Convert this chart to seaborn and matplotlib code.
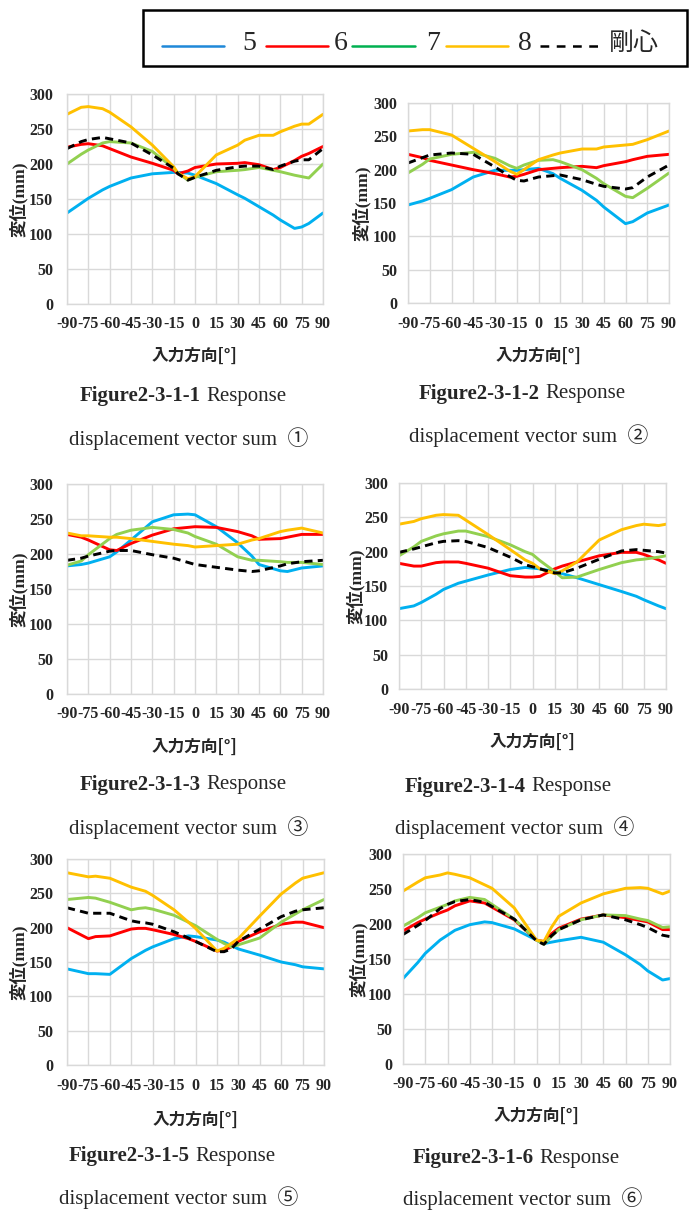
import matplotlib
matplotlib.use("Agg")
import matplotlib.pyplot as plt
import matplotlib.patches as mpatches
import pandas as pd
import seaborn as sns

sns.set_style("white")

# ---- data ----
SERIES = ["5", "6", "7", "8", "剛心"]
LINE_COLORS = ["#00B0F0", "#FF0000", "#92D050", "#FFC000", "#000000"]
LEGEND_COLORS = ["#1F88D8", "#FF0000", "#00B050", "#FFC000", "#000000"]
X_TICKS = [-90, -75, -60, -45, -30, -15, 0, 15, 30, 45, 60, 75, 90]
Y_TICKS = [0, 50, 100, 150, 200, 250, 300]

# Figure2-3-1-1
ANGLES_1 = [-90, -80, -75, -65, -60, -45, -30, -15, -12, -5, 0, 15, 30, 35, 45, 55, 60, 70, 75, 80, 90]
S5_1 = [130, 144, 151, 163, 168, 180, 186, 188, 188, 187, 184, 172, 156, 151, 139, 127, 120, 108, 110, 115, 130]
S6_1 = [224, 228, 229, 226, 222, 210, 201, 191, 186, 190, 195, 200, 201, 202, 199, 192, 195, 205, 211, 215, 225]
S7_1 = [200, 214, 220, 230, 232, 230, 218, 194, 187, 177, 181, 189, 191, 192, 195, 191, 189, 184, 182, 180, 200]
S8_1 = [271, 281, 282, 279, 274, 253, 227, 196, 187, 179, 182, 213, 227, 234, 241, 241, 246, 254, 257, 257, 271]
SC_1 = [222, 232, 235, 238, 236, 230, 213, 194, 186, 177, 181, 191, 196, 197, 197, 192, 197, 204, 206, 206, 222]

# Figure2-3-1-2
ANGLES_2 = [-90, -80, -75, -60, -45, -30, -20, -15, -10, 0, 10, 15, 30, 40, 45, 60, 65, 75, 90]
S5_2 = [147, 153, 157, 170, 189, 199, 199, 199, 200, 202, 194, 187, 169, 154, 144, 119, 122, 135, 147]
S6_2 = [223, 218, 214, 207, 200, 194, 189, 190, 193, 200, 202, 203, 205, 203, 206, 212, 215, 220, 223]
S7_2 = [195, 208, 216, 223, 226, 217, 206, 202, 207, 214, 215, 212, 200, 187, 179, 160, 158, 172, 195]
S8_2 = [258, 260, 260, 252, 232, 212, 198, 193, 200, 215, 222, 225, 231, 231, 234, 237, 238, 245, 258]
SC_2 = [210, 218, 222, 225, 223, 204, 190, 184, 183, 189, 191, 192, 185, 178, 175, 171, 173, 189, 207]

# Figure2-3-1-3
ANGLES_3 = [-90, -80, -75, -60, -55, -45, -30, -15, -5, 0, 15, 30, 40, 45, 60, 65, 75, 90]
S5_3 = [183, 185, 187, 196, 203, 220, 246, 256, 257, 256, 239, 216, 197, 185, 176, 175, 180, 183]
S6_3 = [228, 224, 220, 206, 205, 215, 227, 236, 238, 239, 238, 232, 226, 221, 222, 224, 228, 228]
S7_3 = [184, 190, 199, 222, 228, 234, 238, 235, 230, 225, 214, 196, 191, 191, 189, 188, 188, 185]
S8_3 = [230, 226, 226, 224, 224, 222, 218, 214, 212, 210, 212, 214, 220, 222, 232, 234, 237, 230]
SC_3 = [191, 194, 197, 204, 205, 205, 199, 194, 188, 185, 181, 177, 175, 176, 183, 186, 189, 191]

# Figure2-3-1-4
ANGLES_4 = [-90, -80, -75, -65, -60, -50, -45, -30, -15, -5, 0, 5, 15, 20, 30, 45, 60, 70, 75, 85, 90]
S5_4 = [117, 121, 126, 138, 145, 154, 157, 166, 174, 177, 176, 175, 171, 168, 162, 152, 142, 135, 130, 121, 117]
S6_4 = [183, 179, 179, 184, 185, 185, 183, 176, 165, 163, 163, 164, 175, 179, 185, 194, 199, 199, 196, 188, 183]
S7_4 = [194, 207, 215, 223, 226, 230, 230, 222, 210, 200, 196, 187, 171, 162, 163, 174, 184, 188, 189, 192, 194]
S8_4 = [240, 244, 248, 253, 254, 253, 246, 225, 203, 188, 183, 175, 168, 172, 185, 217, 232, 238, 240, 238, 240]
SC_4 = [199, 204, 207, 213, 215, 216, 215, 206, 192, 181, 178, 175, 169, 169, 176, 189, 201, 203, 202, 200, 198]

# Figure2-3-1-5
ANGLES_5 = [-90, -75, -70, -60, -45, -40, -35, -30, -15, -5, 0, 15, 20, 25, 30, 45, 60, 70, 75, 90]
S5_5 = [140, 133, 133, 132, 155, 161, 167, 172, 184, 188, 187, 182, 179, 174, 169, 160, 150, 146, 143, 140]
S6_5 = [200, 184, 187, 188, 198, 199, 199, 197, 190, 184, 180, 166, 167, 172, 180, 194, 205, 208, 208, 200]
S7_5 = [241, 244, 243, 237, 226, 228, 229, 227, 218, 208, 203, 183, 177, 172, 175, 185, 208, 220, 226, 241]
S8_5 = [280, 274, 275, 272, 259, 256, 253, 247, 226, 208, 199, 166, 170, 177, 184, 217, 249, 265, 272, 280]
SC_5 = [229, 221, 221, 221, 210, 208, 207, 205, 194, 185, 180, 165, 165, 169, 180, 198, 216, 224, 226, 229]

# Figure2-3-1-6
ANGLES_6 = [-90, -80, -75, -65, -60, -55, -45, -35, -30, -15, 0, 5, 10, 15, 30, 45, 60, 70, 75, 85, 90]
S5_6 = [122, 145, 158, 177, 184, 191, 199, 203, 202, 193, 177, 172, 174, 176, 181, 174, 156, 142, 133, 120, 122]
S6_6 = [190, 202, 207, 216, 220, 226, 233, 230, 224, 206, 177, 175, 186, 194, 207, 213, 209, 205, 203, 192, 192]
S7_6 = [197, 209, 216, 224, 228, 233, 238, 235, 228, 207, 177, 171, 182, 192, 206, 213, 212, 207, 205, 195, 196]
S8_6 = [247, 260, 266, 270, 273, 271, 266, 256, 251, 223, 177, 175, 195, 211, 230, 243, 251, 252, 251, 243, 247]
SC_6 = [185, 198, 205, 222, 228, 232, 235, 231, 225, 207, 176, 171, 183, 192, 206, 213, 206, 199, 195, 184, 182]

PANELS = [
    (ANGLES_1, [S5_1, S6_1, S7_1, S8_1, SC_1]),
    (ANGLES_2, [S5_2, S6_2, S7_2, S8_2, SC_2]),
    (ANGLES_3, [S5_3, S6_3, S7_3, S8_3, SC_3]),
    (ANGLES_4, [S5_4, S6_4, S7_4, S8_4, SC_4]),
    (ANGLES_5, [S5_5, S6_5, S7_5, S8_5, SC_5]),
    (ANGLES_6, [S5_6, S6_6, S7_6, S8_6, SC_6]),
]
CAPTIONS = ["Figure2-3-1-1", "Figure2-3-1-2", "Figure2-3-1-3",
            "Figure2-3-1-4", "Figure2-3-1-5", "Figure2-3-1-6"]
CIRCLED = ["①", "②", "③", "④", "⑤", "⑥"]

# ---- layout (pixels) ----
W, H = 695, 1210
AX_BOXES = [(67, 94, 323, 304), (408, 103, 669, 303),
            (67, 484, 323, 694), (399, 483, 666, 689),
            (67, 859, 324, 1065), (403, 854, 670, 1064)]
YLABEL_X = [19, 362, 19, 356, 19, 359]
XLABEL_Y = [356, 356, 747, 742, 1120, 1116]
YTICK_PAD = [10, 8, 10, 8, 10, 8]
CAP1 = [(80, 396), (419, 394), (80, 785), (405, 787), (69, 1156), (413, 1158)]
CAP2 = [(69, 439), (409, 436), (69, 828), (395, 828), (59, 1198), (403, 1199)]

SERIF = ["Liberation Serif", "Noto Sans CJK JP"]
CJK = ["Noto Sans CJK JP", "DejaVu Sans"]

fig = plt.figure(figsize=(W / 100, H / 100), dpi=100)


def fx(x):
    return x / W


def fy(y):
    return 1 - y / H


for i, (angles, values) in enumerate(PANELS):
    x0, y0, x1, y1 = AX_BOXES[i]
    ax = fig.add_axes([fx(x0), fy(y1), (x1 - x0) / W, (y1 - y0) / H])
    rows = []
    for name, ys in zip(SERIES, values):
        for a, v in zip(angles, ys):
            rows.append({"angle": a, "disp": v, "series": name})
    df = pd.DataFrame(rows)
    sns.lineplot(data=df, x="angle", y="disp", hue="series", style="series",
                 hue_order=SERIES, style_order=SERIES,
                 palette=dict(zip(SERIES, LINE_COLORS)),
                 dashes={"5": "", "6": "", "7": "", "8": "", "剛心": (2.8, 1.8)},
                 estimator=None, sort=False, linewidth=2.1, legend=False, ax=ax)
    ax.set_xlim(-90, 90)
    ax.set_ylim(0, 300)
    ax.set_xticks(X_TICKS, labels=[str(v) for v in X_TICKS])
    ax.set_yticks(Y_TICKS, labels=[str(v) for v in Y_TICKS])
    ax.grid(True, color="#d9d9d9", linewidth=1.0)
    ax.set_axisbelow(True)
    for s in ax.spines.values():
        s.set_color("#d9d9d9")
        s.set_linewidth(1.0)
    ax.tick_params(axis="x", length=0, pad=9)
    ax.tick_params(axis="y", length=0, pad=YTICK_PAD[i])
    for lab in ax.get_xticklabels() + ax.get_yticklabels():
        lab.set_fontfamily(SERIF)
        lab.set_fontweight("bold")
        lab.set_fontsize(11.5)
    ax.set_ylabel("変位(mm)", fontfamily=SERIF, fontweight="bold", fontsize=12.5, va="center")
    ax.yaxis.set_label_coords((YLABEL_X[i] - x0) / (x1 - x0), 0.5)
    ax.set_xlabel("入力方向[°]", fontfamily=CJK, fontweight="bold", fontsize=12, va="center")
    ax.xaxis.set_label_coords(0.5, (y1 - XLABEL_Y[i]) / (y1 - y0))

    cx, cy = CAP1[i]
    fig.text(fx(cx), fy(cy), CAPTIONS[i], fontfamily=SERIF, fontweight="bold",
             fontsize=15, ha="left", va="center")
    fig.text(fx(cx + 126), fy(cy), "Response", fontfamily=SERIF,
             fontsize=15, ha="left", va="center")
    dx, dy = CAP2[i]
    fig.text(fx(dx), fy(dy), "displacement vector sum  " + CIRCLED[i], fontfamily=SERIF,
             fontsize=15, ha="left", va="center")

# ---- legend box ----
lg = fig.add_axes([0, 0, 1, 1], facecolor="none")
lg.set_xlim(0, W)
lg.set_ylim(H, 0)
lg.axis("off")
lg.add_patch(mpatches.Rectangle((143, 10), 544, 56, fill=False, lw=1.8, ec="black"))
LEG_LINES = [(162, 224), (266, 328), (352, 415), (446, 508), (540, 603)]
LEG_TEXT_X = [249, 341, 433, 525]
for k, name in enumerate(SERIES):
    xa, xb = LEG_LINES[k]
    lg.plot([xa, xb], [46, 46], color=LEGEND_COLORS[k], lw=1.8,
            linestyle=(0, (3.5, 3.0)) if name == "剛心" else "-")
for k in range(4):
    lg.text(LEG_TEXT_X[k], 43, SERIES[k], fontfamily=SERIF, fontsize=20,
            ha="center", va="center")
lg.text(609, 43, SERIES[4], fontfamily=CJK, fontsize=18, ha="left", va="center")

fig.savefig("out.png", dpi=100)
